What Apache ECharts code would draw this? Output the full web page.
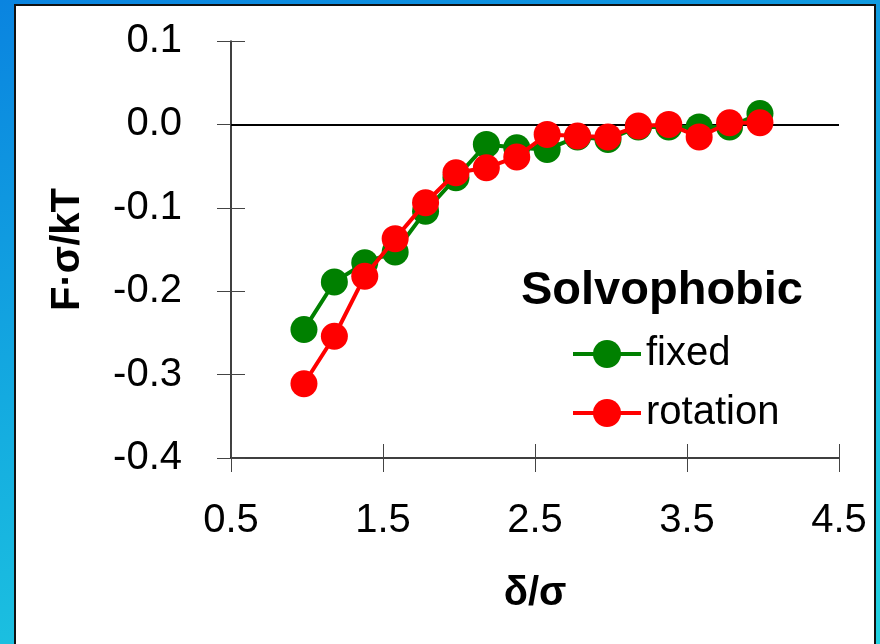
<!DOCTYPE html>
<html>
<head>
<meta charset="utf-8">
<title>Solvophobic</title>
<script src="https://cdn.jsdelivr.net/npm/echarts@6/dist/echarts.min.js"></script>
<style>
  html, body { margin: 0; padding: 0; }
  body {
    width: 880px; height: 644px; overflow: hidden; position: relative;
    background: linear-gradient(165deg, #0a84e0 0%, #15aee0 50%, #22d2e0 100%);
  }
  #panel {
    position: absolute; left: 14px; top: 4px; width: 862px; height: 680px;
    background: #fff; border: 2px solid #111; box-sizing: border-box;
  }
  #chart { position: absolute; left: 0; top: 0; width: 880px; height: 644px; }
</style>
</head>
<body>
<div id="panel"></div>
<div id="chart"></div>
<script>
  // separation δ/σ (same for both series)
  const deltaValues = [0.98, 1.18, 1.38, 1.58, 1.78, 1.98, 2.18, 2.38,
                       2.58, 2.78, 2.98, 3.18, 3.38, 3.58, 3.78, 3.98];
  // F·σ/kT
  const fixedValues = [-0.246, -0.189, -0.166, -0.153, -0.104, -0.064, -0.024, -0.028,
                       -0.030, -0.015, -0.018, -0.003, -0.003, -0.003, -0.003, 0.013];
  const rotationValues = [-0.311, -0.254, -0.182, -0.137, -0.094, -0.058, -0.052, -0.039,
                          -0.012, -0.014, -0.015, -0.002, 0.000, -0.015, 0.002, 0.002];
  const seriesNames = ['fixed', 'rotation'];
  const xTickLabels = ['0.5', '1.5', '2.5', '3.5', '4.5'];
  const yTickLabels = ['-0.4', '-0.3', '-0.2', '-0.1', '0.0', '0.1'];

  const xMin = 0.5, xMax = 4.5, xStep = 1;
  const yMin = -0.4, yMax = 0.1, yStep = 0.1;

  const FONT = '"Liberation Sans", Arial, sans-serif';
  const chart = echarts.init(document.getElementById('chart'));

  function pairs(ys) {
    return deltaValues.map((x, i) => [x, ys[i]]);
  }

  // axis with ticks outside (labels + line)
  const tickOut = { show: true, inside: false, length: 14, lineStyle: { color: '#444', width: 1 } };
  // twin axis only to draw the inner half of the crossing ticks
  const tickIn = { show: true, inside: true, length: 14, lineStyle: { color: '#444', width: 1 } };

  const option = {
    animation: false,
    backgroundColor: 'transparent',
    title: {
      text: 'Solvophobic',
      left: 516,
      top: 263,
      textStyle: { fontFamily: FONT, fontSize: 47, fontWeight: 'bold', color: '#000' }
    },
    legend: {
      data: seriesNames,
      orient: 'vertical',
      left: 566,
      top: 329,
      itemWidth: 68,
      itemHeight: 35,
      itemGap: 19,
      lineStyle: { width: 4 },
      textStyle: { fontFamily: FONT, fontSize: 40, color: '#000' }
    },
    grid: { left: 231, right: 41, top: 41, bottom: 186 },
    xAxis: [
      {
        type: 'value', min: xMin, max: xMax, interval: xStep,
        name: 'δ/σ', nameLocation: 'middle', nameGap: 116,
        nameTextStyle: { fontFamily: FONT, fontSize: 40, fontWeight: 'bold', color: '#000' },
        axisLine: { show: true, onZero: false, lineStyle: { color: '#000', width: 1.5 } },
        axisTick: tickOut,
        splitLine: { show: false },
        axisLabel: {
          margin: 43, fontFamily: FONT, fontSize: 40, color: '#000',
          formatter: v => xTickLabels[Math.round((v - xMin) / xStep)]
        }
      },
      {
        type: 'value', min: xMin, max: xMax, interval: xStep, position: 'bottom',
        axisLine: { show: false, onZero: false }, axisTick: tickIn,
        axisLabel: { show: false }, splitLine: { show: false }
      }
    ],
    yAxis: [
      {
        type: 'value', min: yMin, max: yMax, interval: yStep,
        name: 'F·σ/kT', nameLocation: 'middle', nameGap: 143,
        nameTextStyle: { fontFamily: FONT, fontSize: 40, fontWeight: 'bold', color: '#000' },
        axisLine: { show: true, onZero: false, lineStyle: { color: '#000', width: 1.5 } },
        axisTick: tickOut,
        splitLine: { show: false },
        axisLabel: {
          margin: 49, fontFamily: FONT, fontSize: 40, color: '#000',
          formatter: v => yTickLabels[Math.round((v - yMin) / yStep)]
        }
      },
      {
        type: 'value', min: yMin, max: yMax, interval: yStep, position: 'left',
        axisLine: { show: false, onZero: false }, axisTick: tickIn,
        axisLabel: { show: false }, splitLine: { show: false }
      }
    ],
    series: [
      {
        name: seriesNames[0], type: 'line', data: pairs(fixedValues),
        symbol: 'circle', symbolSize: 27, z: 3,
        lineStyle: { color: '#008000', width: 4 },
        itemStyle: { color: '#008000' },
        markLine: {
          silent: true, symbol: 'none', z: 1,
          label: { show: false },
          lineStyle: { color: '#000', width: 2, type: 'solid' },
          data: [{ yAxis: 0 }]
        }
      },
      {
        name: seriesNames[1], type: 'line', data: pairs(rotationValues),
        symbol: 'circle', symbolSize: 27, z: 4,
        lineStyle: { color: '#ff0000', width: 4 },
        itemStyle: { color: '#ff0000' }
      }
    ]
  };

  chart.setOption(option);
</script>
</body>
</html>
